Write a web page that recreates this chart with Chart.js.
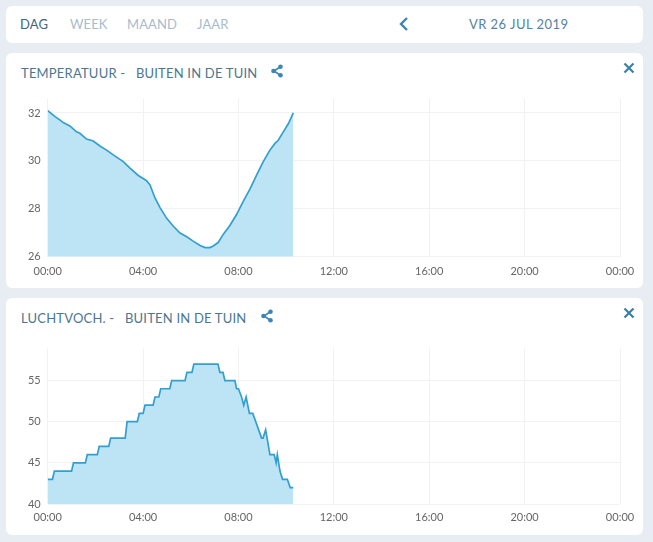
<!DOCTYPE html>
<html>
<head>
<meta charset="utf-8">
<script src="https://cdn.jsdelivr.net/npm/chart.js@4/dist/chart.umd.min.js"></script>
<style>
  html, body { margin: 0; padding: 0; }
  body { width: 653px; height: 542px; background: #e8edf3; position: relative; overflow: hidden; font-family: Lato, "Open Sans", sans-serif; }
  .panel { position: absolute; left: 6px; width: 637px; background: #fff; border-radius: 6px; }
  .nav { top: 6px; height: 37px; }
  .nav span { position: absolute; top: 10px; font-size: 13px; letter-spacing: 0.1px; }
  .title { position: absolute; left: 15px; top: 12px; font-size: 13px; color: #4b7790; white-space: pre; letter-spacing: 0.2px; }
  .share { position: absolute; top: 11px; }
  .close { position: absolute; left: 617px; top: 9px; }
  canvas { position: absolute; left: 0; }
</style>
</head>
<body>
<div class="panel nav">
  <span style="left:14px;color:#3f6680">DAG</span>
  <span style="left:64px;color:#a9bccb">WEEK</span>
  <span style="left:121px;color:#a9bccb">MAAND</span>
  <span style="left:191px;color:#a9bccb">JAAR</span>
  <svg style="position:absolute;left:392px;top:10px" width="12" height="16"><polyline points="9,2 3,8 9,14" fill="none" stroke="#3b86b4" stroke-width="2.4"/></svg>
  <span style="left:463px;color:#55829f;letter-spacing:0.45px">VR 26 JUL 2019</span>
</div>

<div class="panel" style="top:53px;height:235px">
  <div class="title">TEMPERATUUR -   BUITEN IN DE TUIN</div>
  <svg class="share" style="left:264px" width="14" height="14"><path d="M10 3 L4 7 L10 11" stroke="#3b86b4" stroke-width="1.6" fill="none"/><circle cx="10.5" cy="2.8" r="2.3" fill="#3b86b4"/><circle cx="3.5" cy="7" r="2.3" fill="#3b86b4"/><circle cx="10.5" cy="11.2" r="2.3" fill="#3b86b4"/></svg>
  <svg class="close" width="12" height="12"><path d="M1.5 1.5 L10.5 10.5 M10.5 1.5 L1.5 10.5" stroke="#3a7fa8" stroke-width="2.2"/></svg>
  <canvas id="tempChart" style="top:32px"></canvas>
</div>

<div class="panel" style="top:298px;height:237px">
  <div class="title">LUCHTVOCH. -   BUITEN IN DE TUIN</div>
  <svg class="share" style="left:254px" width="14" height="14"><path d="M10 3 L4 7 L10 11" stroke="#3b86b4" stroke-width="1.6" fill="none"/><circle cx="10.5" cy="2.8" r="2.3" fill="#3b86b4"/><circle cx="3.5" cy="7" r="2.3" fill="#3b86b4"/><circle cx="10.5" cy="11.2" r="2.3" fill="#3b86b4"/></svg>
  <svg class="close" width="12" height="12"><path d="M1.5 1.5 L10.5 10.5 M10.5 1.5 L1.5 10.5" stroke="#3a7fa8" stroke-width="2.2"/></svg>
  <canvas id="humChart" style="top:36px"></canvas>
</div>

<script>
// Temperature, hours since midnight -> degrees C
const tempHours = [0, 0.31, 0.52, 0.65, 0.93, 1.21, 1.35, 1.63, 1.91, 2.19, 2.47, 2.75, 3.17, 3.45, 3.8, 4.15, 4.29,
    4.5, 4.71, 4.99, 5.27, 5.55, 5.83, 6.1, 6.39, 6.6, 6.8, 6.94, 7.15, 7.36, 7.64, 7.92, 8.2, 8.48, 8.76, 9.04,
    9.32, 9.53, 9.67, 9.88, 10.09, 10.3];
const tempValues = [32.1, 31.85, 31.7, 31.6, 31.46, 31.21, 31.15, 30.91, 30.83, 30.62, 30.45, 30.25, 29.97, 29.7, 29.39, 29.17, 29.0,
    28.45, 28.05, 27.6, 27.27, 26.99, 26.83, 26.65, 26.47, 26.38, 26.38, 26.45, 26.59, 26.93, 27.3, 27.76, 28.31, 28.82, 29.41, 29.97,
    30.45, 30.73, 30.86, 31.21, 31.55, 32.0];

// Humidity, hours since midnight -> %
const humHours = [0, 0.2, 0.28, 1.0, 1.08, 1.58, 1.66, 2.08, 2.16, 2.56, 2.64, 3.25, 3.33, 3.76, 3.84, 4.0, 4.08,
    4.42, 4.5, 4.66, 4.74, 5.12, 5.2, 5.76, 5.84, 6.05, 6.13, 7.14, 7.22, 7.35, 7.43, 7.85, 7.92, 8.0, 8.13,
    8.22, 8.32, 8.46, 8.6, 8.97, 9.03, 9.14, 9.32, 9.5, 9.58, 9.63, 9.74, 9.85, 10.05, 10.17, 10.3];
const humValues = [43, 43, 44, 44, 45, 45, 46, 46, 47, 47, 48, 48, 50, 50, 51, 51, 52,
    52, 53, 53, 54, 54, 55, 55, 56, 56, 57, 57, 56, 56, 55, 55, 54, 54, 53,
    52, 53, 51, 51, 48, 48, 49, 46, 46, 45, 46, 44, 43, 43, 42, 42];

const xTicks = [0, 4, 8, 12, 16, 20, 24];
const tempTicks = [26, 28, 30, 32];
const humTicks = [40, 45, 50, 55];

const tickFont = { family: 'Lato, sans-serif', size: 11 };
const gridColor = '#f0f2f4';

function hourLabel(v) {
    const h = v % 24;
    return (h < 10 ? '0' : '') + h + ':00';
}

function makeChart(id, hours, values, yMin, yMax, yTicks, xHeight, xPad) {
    const canvas = document.getElementById(id);
    canvas.width = 637;
    canvas.height = 195;
    canvas.style.width = '637px';
    canvas.style.height = '195px';
    return new Chart(canvas.getContext('2d'), {
        type: 'line',
        data: {
            datasets: [{
                data: hours.map((h, i) => ({ x: h, y: values[i] })),
                borderColor: '#339fcf',
                backgroundColor: '#bde4f5',
                borderWidth: 1.7,
                pointRadius: 0,
                tension: 0,
                fill: 'start',
            }],
        },
        options: {
            responsive: false,
            animation: false,
            layout: { padding: { left: 0, right: 23, top: 10, bottom: 0 } },
            plugins: { legend: { display: false }, tooltip: { enabled: false } },
            scales: {
                x: {
                    type: 'linear',
                    min: 0,
                    max: 24,
                    afterBuildTicks: s => { s.ticks = xTicks.map(v => ({ value: v })); },
                    afterFit: s => { s.height = xHeight; },
                    ticks: { callback: hourLabel, color: '#666', font: tickFont, padding: xPad, maxRotation: 0 },
                    grid: { color: gridColor, drawTicks: false },
                    border: { display: false },
                },
                y: {
                    min: yMin,
                    max: yMax,
                    afterBuildTicks: s => { s.ticks = yTicks.map(v => ({ value: v })); },
                    afterFit: s => { s.width = 41.7; },
                    ticks: { color: '#666', font: tickFont, padding: 7 },
                    grid: { color: gridColor, drawTicks: false },
                    border: { display: false },
                },
            },
        },
    });
}

makeChart('tempChart', tempHours, tempValues, 26, 32.6, tempTicks, 23.3, 8);
makeChart('humChart', humHours, humValues, 40, 59, humTicks, 25, 7);
</script>
</body>
</html>
